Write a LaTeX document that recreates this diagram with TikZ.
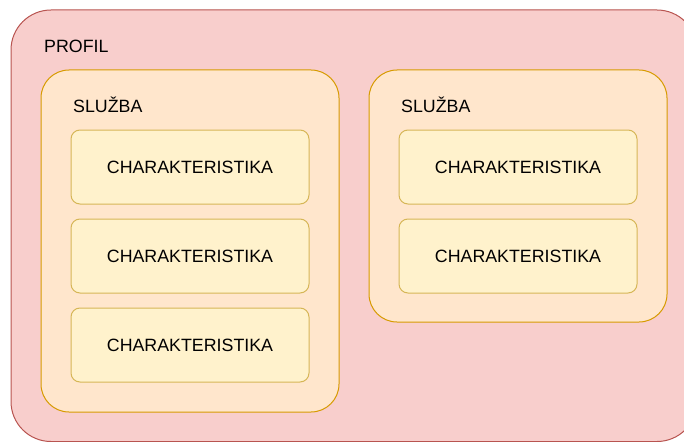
\documentclass[tikz,border=0pt]{standalone}
\usepackage{fontspec}
\setmainfont{Liberation Sans}
\definecolor{pinkF}{HTML}{F8CECC}
\definecolor{pinkS}{HTML}{B85450}
\definecolor{orF}{HTML}{FFE6CC}
\definecolor{orS}{HTML}{D79B00}
\definecolor{yeF}{HTML}{FFF2CC}
\definecolor{yeS}{HTML}{D6B656}
\begin{document}
\begin{tikzpicture}[x=1pt,y=-1pt,
  profil/.style={draw=pinkS,fill=pinkF,line width=1pt,rounded corners=40pt},
  sluzba/.style={draw=orS,fill=orF,line width=1pt,rounded corners=28pt},
  charbox/.style={draw=yeS,fill=yeF,line width=1pt,rounded corners=9pt},
  lbl/.style={font=\fontsize{17.8}{20}\selectfont,text=black,inner sep=0pt}]
\useasboundingbox (0,0) rectangle (684,441);
\clip (0,0) rectangle (684,441);
\draw[profil] (11,10) rectangle (697,441.5);
\node[lbl,anchor=west] (tprofil) at (44,46) {PROFIL};
\draw[sluzba] (41,70) rectangle (339,412);
\node[lbl,anchor=west] (ts1) at (73,105) {SLUŽBA};
\draw[sluzba] (369,70) rectangle (667,322);
\node[lbl,anchor=west] (ts2) at (401,105) {SLUŽBA};
\foreach \i/\y in {1/130,2/219,3/308}{
  \draw[charbox] (71,\y) rectangle (309,\y+74);
  \node[lbl] (cl\i) at (190,\y+37) {CHARAKTERISTIKA};
}
\foreach \i/\y in {1/130,2/219}{
  \draw[charbox] (399,\y) rectangle (637,\y+74);
  \node[lbl] (cr\i) at (518,\y+37) {CHARAKTERISTIKA};
}
\end{tikzpicture}
\end{document}
